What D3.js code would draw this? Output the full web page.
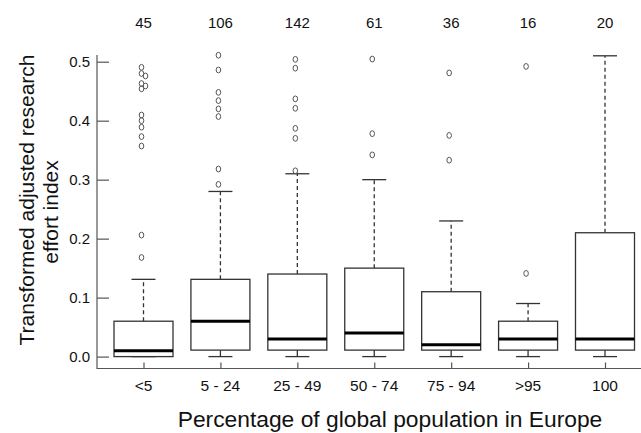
<!DOCTYPE html>
<html>
<head>
<meta charset="utf-8">
<script src="https://cdn.jsdelivr.net/npm/d3@7"></script>
<style>
  body { margin: 0; background: #fff; }
  text { font-family: "Liberation Sans", Arial, Helvetica, sans-serif; fill: #111; }
</style>
</head>
<body>
<svg id="chart" width="641" height="433"></svg>
<script>
// groups and their sample sizes
var categories = ['<5', '5 - 24', '25 - 49', '50 - 74', '75 - 94', '>95', '100'];
var counts = [45, 106, 142, 61, 36, 16, 20];

// box statistics
var whiskerLow = [0, 0, 0, 0, 0, 0, 0];
var q1 = [0, 0.011, 0.011, 0.011, 0.011, 0.011, 0.011];
var medians = [0.010, 0.060, 0.030, 0.040, 0.020, 0.030, 0.030];
var q3 = [0.060, 0.131, 0.140, 0.150, 0.110, 0.060, 0.210];
var whiskerHigh = [0.131, 0.280, 0.310, 0.300, 0.230, 0.090, 0.510];

var outliers = [
	[0.4905, 0.480, 0.4758, 0.463, 0.4588, 0.454, 0.4096, 0.400, 0.389, 0.373, 0.357, 0.206, 0.168],
	[0.511, 0.486, 0.448, 0.434, 0.420, 0.407, 0.318, 0.292],
	[0.504, 0.489, 0.437, 0.421, 0.387, 0.370, 0.315],
	[0.5045, 0.378, 0.342],
	[0.481, 0.375, 0.333],
	[0.492, 0.141],
	[]
];

var yTicks = [0, 0.1, 0.2, 0.3, 0.4, 0.5];

var svg = d3.select('#chart');

var x = d3.scalePoint()
	.domain(categories)
	.range([143.5, 605]);

var y = d3.scaleLinear()
	.domain([0, 0.5])
	.range([356.6, 61.7]);

var boxW = 59, capW = 24;
var axisLeft = 97, axisBottom = 368.5;

// L-shaped frame
svg.append('path')
	.attr('d', 'M' + axisLeft + ',55V' + axisBottom + 'H641')
	.attr('fill', 'none')
	.attr('stroke', '#555')
	.attr('stroke-width', 1.2);

// y ticks point inward
svg.append('g')
	.attr('transform', 'translate(' + axisLeft + ',0)')
	.call(d3.axisRight(y).tickValues(yTicks).tickSize(12).tickFormat(''))
	.call(function(g) {
		g.select('.domain').remove();
		g.selectAll('line').attr('stroke', '#555').attr('stroke-width', 1.2);
	});

svg.append('g').selectAll('text')
	.data(yTicks)
	.enter().append('text')
	.attr('x', 90)
	.attr('y', function(d) { return y(d); })
	.attr('dy', '0.36em')
	.attr('text-anchor', 'end')
	.style('font-size', '15px')
	.text(d3.format('.1f'));

// x ticks, also inward
svg.append('g')
	.attr('transform', 'translate(0,' + axisBottom + ')')
	.call(d3.axisTop(x).tickSize(6).tickFormat(''))
	.call(function(g) {
		g.select('.domain').remove();
		g.selectAll('line').attr('stroke', '#555').attr('stroke-width', 1.2);
	});

svg.append('g').selectAll('text')
	.data(categories)
	.enter().append('text')
	.attr('x', function(d) { return x(d); })
	.attr('y', 390.7)
	.attr('text-anchor', 'middle')
	.style('font-size', '15.5px')
	.text(function(d) { return d; });

// sample sizes along the top
svg.append('g').selectAll('text')
	.data(counts)
	.enter().append('text')
	.attr('x', function(d, i) { return x(categories[i]); })
	.attr('y', 28)
	.attr('text-anchor', 'middle')
	.style('font-size', '15px')
	.text(function(d) { return d; });

var boxes = svg.append('g').selectAll('g')
	.data(categories)
	.enter().append('g')
	.attr('transform', function(d) { return 'translate(' + x(d) + ',0)'; });

// dashed whiskers
boxes.append('line')
	.attr('y1', function(d, i) { return y(q3[i]); })
	.attr('y2', function(d, i) { return y(whiskerHigh[i]); })
	.attr('stroke', '#333').attr('stroke-width', 1.3)
	.attr('stroke-dasharray', '4,3');

boxes.append('line')
	.attr('y1', function(d, i) { return y(q1[i]); })
	.attr('y2', function(d, i) { return y(whiskerLow[i]); })
	.attr('stroke', '#333').attr('stroke-width', 1.3);

boxes.selectAll('line.cap')
	.data(function(d, i) { return [whiskerHigh[i], whiskerLow[i]]; })
	.enter().append('line')
	.attr('class', 'cap')
	.attr('x1', -capW / 2).attr('x2', capW / 2)
	.attr('y1', function(v) { return y(v); })
	.attr('y2', function(v) { return y(v); })
	.attr('stroke', '#333').attr('stroke-width', 1.3);

boxes.append('rect')
	.attr('x', -boxW / 2)
	.attr('width', boxW)
	.attr('y', function(d, i) { return y(q3[i]); })
	.attr('height', function(d, i) { return y(q1[i]) - y(q3[i]); })
	.attr('fill', '#fff')
	.attr('stroke', '#333')
	.attr('stroke-width', 1.3);

boxes.append('line')
	.attr('x1', -boxW / 2).attr('x2', boxW / 2)
	.attr('y1', function(d, i) { return y(medians[i]); })
	.attr('y2', function(d, i) { return y(medians[i]); })
	.attr('stroke', '#000').attr('stroke-width', 3);

// outliers, nudged sideways where they would sit on top of each other
boxes.each(function(d, i) {
	var last = null;
	var pts = outliers[i].map(function(v) {
		var py = y(v), dx = 0;
		if (last !== null && Math.abs(py - last) < 5) dx = 4;
		else last = py;
		return { py: py, dx: dx };
	});
	d3.select(this).selectAll('ellipse')
		.data(pts)
		.enter().append('ellipse')
		.attr('cx', function(p) { return p.dx - 2; })
		.attr('cy', function(p) { return p.py; })
		.attr('rx', 2.3).attr('ry', 2.9)
		.attr('fill', 'none')
		.attr('stroke', '#555')
		.attr('stroke-width', 1);
});

// axis titles
svg.append('text')
	.attr('transform', 'translate(34,200)rotate(-90)')
	.attr('text-anchor', 'middle')
	.style('font-size', '21px')
	.text('Transformed adjusted research');

svg.append('text')
	.attr('transform', 'translate(58,212)rotate(-90)')
	.attr('text-anchor', 'middle')
	.style('font-size', '21px')
	.text('effort index');

svg.append('text')
	.attr('x', 390)
	.attr('y', 427)
	.attr('text-anchor', 'middle')
	.style('font-size', '22.8px')
	.text('Percentage of global population in Europe');
</script>
</body>
</html>
